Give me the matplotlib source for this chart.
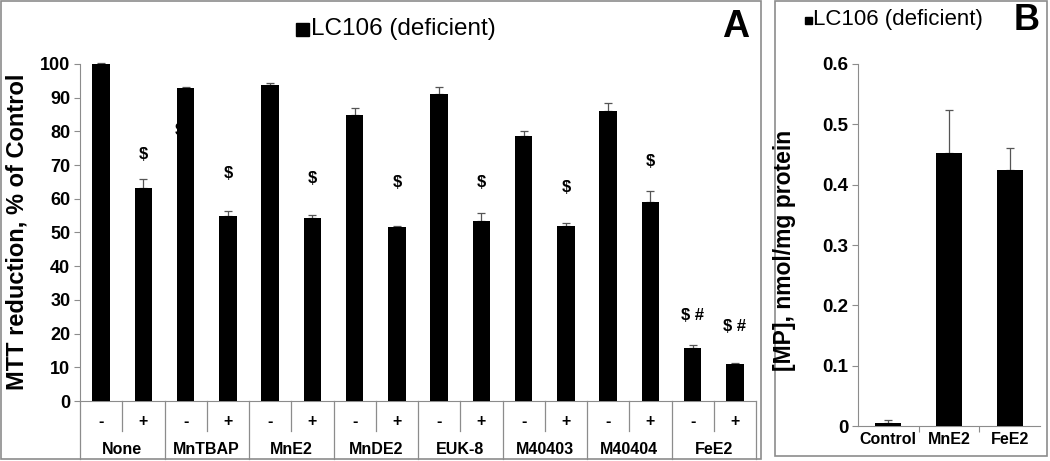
import matplotlib
matplotlib.use("Agg")
import matplotlib.pyplot as plt
from matplotlib.patches import Rectangle
import numpy as np

plt.rcParams['font.family'] = ['Liberation Sans', 'DejaVu Sans']

# ---- Data panel A ----
groups = ["None", "MnTBAP", "MnE2", "MnDE2", "EUK-8", "M40403", "M40404", "FeE2"]
signs = ["-", "+"]
mtt_values = [100, 63.3, 93.0, 55.0, 93.7, 54.3, 84.8, 51.5,
              91.0, 53.5, 78.5, 52.0, 86.0, 59.0, 15.8, 11.0]
mtt_errors = [0.3, 2.5, 0.3, 1.3, 0.8, 0.8, 2.1, 0.4,
              2.3, 2.3, 1.5, 0.8, 2.3, 3.3, 0.9, 0.2]
# annotations: (bar index, y value, text)
annot_idx = [1, 2, 3, 5, 7, 9, 11, 13, 14, 15]
annot_y = [73.0, 80.4, 67.4, 66.0, 64.7, 64.7, 63.5, 71.0, 25.5, 22.0]
annot_txt = ["$", "$", "$", "$", "$", "$", "$", "$", "$ #", "$ #"]
annot_dx = [0, -0.15, 0, 0, 0, 0, 0, 0, 0, 0]

# ---- Data panel B ----
b_cats = ["Control", "MnE2", "FeE2"]
b_values = [0.005, 0.452, 0.424]
b_errors = [0.005, 0.072, 0.036]

legend_label = "LC106 (deficient)"

W, H = 1050, 461
fig = plt.figure(figsize=(W / 100, H / 100), dpi=100)
GRAY = "#8c8c8c"

def fx(px):
    return px / W

def fy(py):
    return 1 - py / H

# ---------------- Panel A ----------------
axL, axR, axT, axB = 80, 756, 64, 401
axA = fig.add_axes([fx(axL), fy(axB), fx(axR - axL), (axB - axT) / H])
x = np.arange(len(mtt_values))
axA.bar(x, mtt_values, width=0.41, color="black", zorder=3, clip_on=False)
axA.errorbar(x, mtt_values, yerr=[np.zeros(len(mtt_errors)), mtt_errors],
             fmt="none", ecolor="#555555", elinewidth=0.9, capsize=3,
             capthick=0.9, zorder=2, clip_on=False)
axA.set_xlim(-0.5, len(mtt_values) - 0.5)
axA.set_ylim(0, 100)
axA.set_yticks(np.arange(0, 101, 10))
axA.tick_params(axis="y", direction="out", length=4, color=GRAY, labelsize=13, pad=3)
for lab in axA.get_yticklabels():
    lab.set_fontweight("bold")
axA.set_xticks([])
for s in ["top", "right"]:
    axA.spines[s].set_visible(False)
axA.spines["left"].set_color(GRAY)
axA.spines["bottom"].set_color(GRAY)
fig.text(fx(17), fy(232), "MTT reduction, % of Control", rotation=90,
         fontsize=17, fontweight="bold", ha="center", va="center")

for i, yv, t, dx in zip(annot_idx, annot_y, annot_txt, annot_dx):
    axA.text(i + dx, yv, t, ha="center", va="center", fontsize=12, fontweight="bold", zorder=1)

# table under axis
def axfrac(py):
    return (axB - py) / (axB - axT)

tr = axA.get_xaxis_transform()
n = len(mtt_values)
for k in range(n + 1):
    xb = k - 0.5
    if k % 2 == 0:
        y0 = axfrac(459)
    else:
        y0 = axfrac(431)
    axA.plot([xb, xb], [0, y0], color=GRAY, lw=0.9, transform=tr, clip_on=False)
for i in range(n):
    axA.text(i, axfrac(421), signs[i % 2], transform=tr, ha="center", va="center",
             fontsize=11.5, fontweight="bold")
for g, name in enumerate(groups):
    axA.text(2 * g + 0.5, axfrac(449), name, transform=tr, ha="center", va="center",
             fontsize=11.5, fontweight="bold")

# legend A
fig.patches.append(Rectangle((fx(296), fy(36)), fx(13), 13 / H, transform=fig.transFigure,
                             color="black"))
fig.text(fx(311), fy(29), legend_label, fontsize=17.5, va="center", ha="left")
fig.text(fx(736), fy(27), "A", fontsize=27, fontweight="bold", ha="center", va="center")

# border A
fig.patches.append(Rectangle((fx(1), fy(459)), fx(760), 458 / H, transform=fig.transFigure,
                             fill=False, edgecolor=GRAY, lw=1.2))

# ---------------- Panel B ----------------
bL, bR, bT, bB = 858, 1040, 64, 426
axBp = fig.add_axes([fx(bL), fy(bB), fx(bR - bL), (bB - bT) / H])
xb = np.arange(len(b_values))
axBp.bar(xb, b_values, width=0.43, color="black", zorder=3)
axBp.errorbar(xb, b_values, yerr=[np.zeros(len(b_errors)), b_errors],
              fmt="none", ecolor="#555555", elinewidth=0.9, capsize=3,
              capthick=0.9, zorder=2)
axBp.set_xlim(-0.5, 2.5)
axBp.set_ylim(0, 0.6)
axBp.set_yticks([0, 0.1, 0.2, 0.3, 0.4, 0.5, 0.6])
axBp.set_yticklabels(["0", "0.1", "0.2", "0.3", "0.4", "0.5", "0.6"])
axBp.tick_params(axis="y", direction="out", length=4, color=GRAY, labelsize=13.5, pad=3)
axBp.set_xticks([0.5, 1.5], minor=False)
axBp.set_xticklabels([])
axBp.tick_params(axis="x", direction="out", length=4, color=GRAY)
axBp.set_xticks(xb, minor=True)
axBp.set_xticklabels(b_cats, minor=True)
axBp.tick_params(axis="x", which="minor", length=0, labelsize=11.5, pad=4)
for lab in axBp.get_yticklabels() + axBp.get_xticklabels(minor=True):
    lab.set_fontweight("bold")
for s in ["top", "right"]:
    axBp.spines[s].set_visible(False)
axBp.spines["left"].set_color(GRAY)
axBp.spines["bottom"].set_color(GRAY)
fig.text(fx(785), fy(250), "[MP], nmol/mg protein", rotation=90,
         fontsize=16.5, fontweight="bold", ha="center", va="center")

fig.patches.append(Rectangle((fx(805), fy(24)), fx(7), 7 / H, transform=fig.transFigure,
                             color="black"))
fig.text(fx(813), fy(20), legend_label, fontsize=16, va="center", ha="left")
fig.text(fx(1027), fy(21), "B", fontsize=26, fontweight="bold", ha="center", va="center")

fig.patches.append(Rectangle((fx(775), fy(456)), fx(272), 455 / H, transform=fig.transFigure,
                             fill=False, edgecolor=GRAY, lw=1.2))

fig.savefig("out.png", dpi=100)
